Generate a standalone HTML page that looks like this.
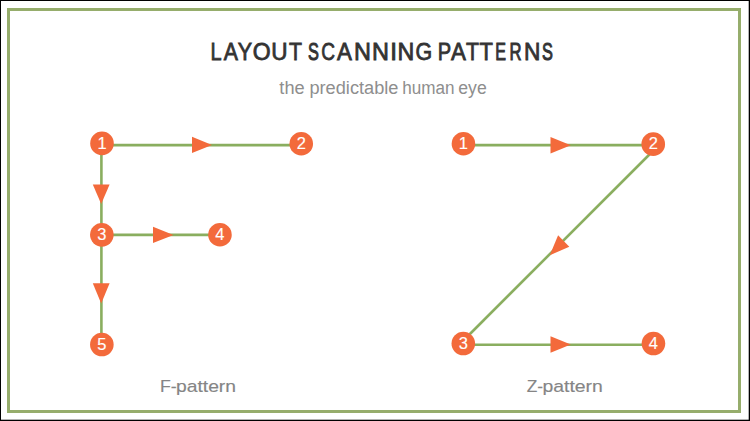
<!DOCTYPE html>
<html>
<head>
<meta charset="utf-8">
<style>
html,body{margin:0;padding:0;}
body{width:750px;height:421px;overflow:hidden;background:#000;position:relative;}
svg{position:absolute;left:0;top:0;display:block;}
text{font-family:"Liberation Sans", sans-serif;}
</style>
</head>
<body>
<svg width="750" height="421" viewBox="0 0 750 421">
  <rect x="1" y="1" width="747.7" height="418.7" fill="#ffffff"/>
  <rect x="8.5" y="9.5" width="731" height="402" fill="none" stroke="#96ad6c" stroke-width="3"/>

  <g fill="#333333" stroke="#333333" stroke-width="0.8" font-size="24">
    <text x="210.46" y="59.6" textLength="11.10" lengthAdjust="spacingAndGlyphs">L</text>
    <text x="223.76" y="59.6" textLength="14.18" lengthAdjust="spacingAndGlyphs">A</text>
    <text x="237.63" y="59.6" textLength="14.35" lengthAdjust="spacingAndGlyphs">Y</text>
    <text x="252.71" y="59.6" textLength="17.89" lengthAdjust="spacingAndGlyphs">O</text>
    <text x="271.36" y="59.6" textLength="16.28" lengthAdjust="spacingAndGlyphs">U</text>
    <text x="289.02" y="59.6" textLength="12.96" lengthAdjust="spacingAndGlyphs">T</text>
    <text x="308.06" y="59.6" textLength="10.89" lengthAdjust="spacingAndGlyphs" stroke-width="1.05">S</text>
    <text x="321.13" y="59.6" textLength="13.80" lengthAdjust="spacingAndGlyphs">C</text>
    <text x="337.06" y="59.6" textLength="14.89" lengthAdjust="spacingAndGlyphs">A</text>
    <text x="353.88" y="59.6" textLength="16.94" lengthAdjust="spacingAndGlyphs">N</text>
    <text x="371.88" y="59.6" textLength="16.94" lengthAdjust="spacingAndGlyphs">N</text>
    <text x="390.17" y="59.6" stroke-width="0.9">I</text>
    <text x="397.59" y="59.6" textLength="16.81" lengthAdjust="spacingAndGlyphs">N</text>
    <text x="415.42" y="59.6" textLength="16.68" lengthAdjust="spacingAndGlyphs">G</text>
    <text x="437.85" y="59.6" textLength="13.41" lengthAdjust="spacingAndGlyphs">P</text>
    <text x="451.06" y="59.6" textLength="14.89" lengthAdjust="spacingAndGlyphs">A</text>
    <text x="466.02" y="59.6" textLength="12.96" lengthAdjust="spacingAndGlyphs">T</text>
    <text x="479.61" y="59.6" textLength="13.40" lengthAdjust="spacingAndGlyphs">T</text>
    <text x="495.18" y="59.6" textLength="10.71" lengthAdjust="spacingAndGlyphs" stroke-width="1.05">E</text>
    <text x="509.43" y="59.6" textLength="12.04" lengthAdjust="spacingAndGlyphs" stroke-width="1.05">R</text>
    <text x="523.93" y="59.6" textLength="16.42" lengthAdjust="spacingAndGlyphs">N</text>
    <text x="542.06" y="59.6" textLength="10.89" lengthAdjust="spacingAndGlyphs" stroke-width="1.05">S</text>
  </g>
  <g fill="#8e8e8e" font-size="18">
    <text x="279.37" y="93.6" textLength="25.30" lengthAdjust="spacingAndGlyphs">the</text>
    <text x="309.45" y="93.6" textLength="89.00" lengthAdjust="spacingAndGlyphs">predictable</text>
    <text x="402.28" y="93.6" textLength="52.28" lengthAdjust="spacingAndGlyphs">human</text>
    <text x="458.28" y="93.6" textLength="28.42" lengthAdjust="spacingAndGlyphs">eye</text>
  </g>

  <g stroke="#8aae5f" stroke-width="2.6" fill="none">
    <line x1="101.5" y1="145.1" x2="301.3" y2="145.1"/>
    <line x1="101.4" y1="144.3" x2="101.4" y2="344.3"/>
    <line x1="101.5" y1="234.9" x2="220" y2="234.9"/>
    <line x1="463.4" y1="145.1" x2="653.4" y2="145.1"/>
    <line x1="659.4" y1="144.5" x2="459.4" y2="344.5"/>
    <line x1="463.4" y1="344.7" x2="653.4" y2="344.7"/>
  </g>

  <g fill="#f36a3b">
    <polygon points="192,136.7 212,144.9 192,153.1"/>
    <polygon points="153,226.7 173.5,234.9 153,243.1"/>
    <polygon points="550.5,137.0 570.8,145.2 550.5,153.4"/>
    <polygon points="550.5,336.3 570.8,344.5 550.5,352.7"/>
    <polygon points="92.8,184.5 101.2,204 109.6,184.5"/>
    <polygon points="92.8,283.3 101.2,303.5 109.6,283.3"/>
    <polygon points="558.1,235.3 569.3,246.7 549.8,255.3"/>

    <circle cx="102" cy="143.4" r="11.8"/>
    <circle cx="301.25" cy="143.75" r="11.8"/>
    <circle cx="101.85" cy="234.85" r="11.8"/>
    <circle cx="219.95" cy="234.75" r="11.8"/>
    <circle cx="101.85" cy="344.55" r="11.8"/>
    <circle cx="463.45" cy="143.75" r="11.8"/>
    <circle cx="653.25" cy="144.15" r="11.8"/>
    <circle cx="463.3" cy="343.55" r="11.8"/>
    <circle cx="653.45" cy="343.55" r="11.8"/>
  </g>

  <g fill="#ffffff" stroke="#ffffff" stroke-width="0.15" font-size="16.5" text-anchor="middle">
    <text x="102" y="148.60">1</text>
    <text x="301.25" y="148.95">2</text>
    <text x="101.85" y="240.05">3</text>
    <text x="219.95" y="239.95">4</text>
    <text x="101.85" y="349.75">5</text>
    <text x="463.45" y="148.95">1</text>
    <text x="653.25" y="149.35">2</text>
    <text x="463.3" y="348.75">3</text>
    <text x="653.45" y="348.75">4</text>
  </g>

  <g fill="#858585" stroke="#858585" stroke-width="0.15" font-size="17">
    <text x="159.99" y="392.3" textLength="16.76" lengthAdjust="spacingAndGlyphs">F-</text>
    <text x="175.98" y="392.3" textLength="60.05" lengthAdjust="spacingAndGlyphs">pattern</text>
    <text x="526.68" y="392.3" textLength="16.30" lengthAdjust="spacingAndGlyphs">Z-</text>
    <text x="542.44" y="392.3" textLength="60.42" lengthAdjust="spacingAndGlyphs">pattern</text>
  </g>
</svg>
</body>
</html>
